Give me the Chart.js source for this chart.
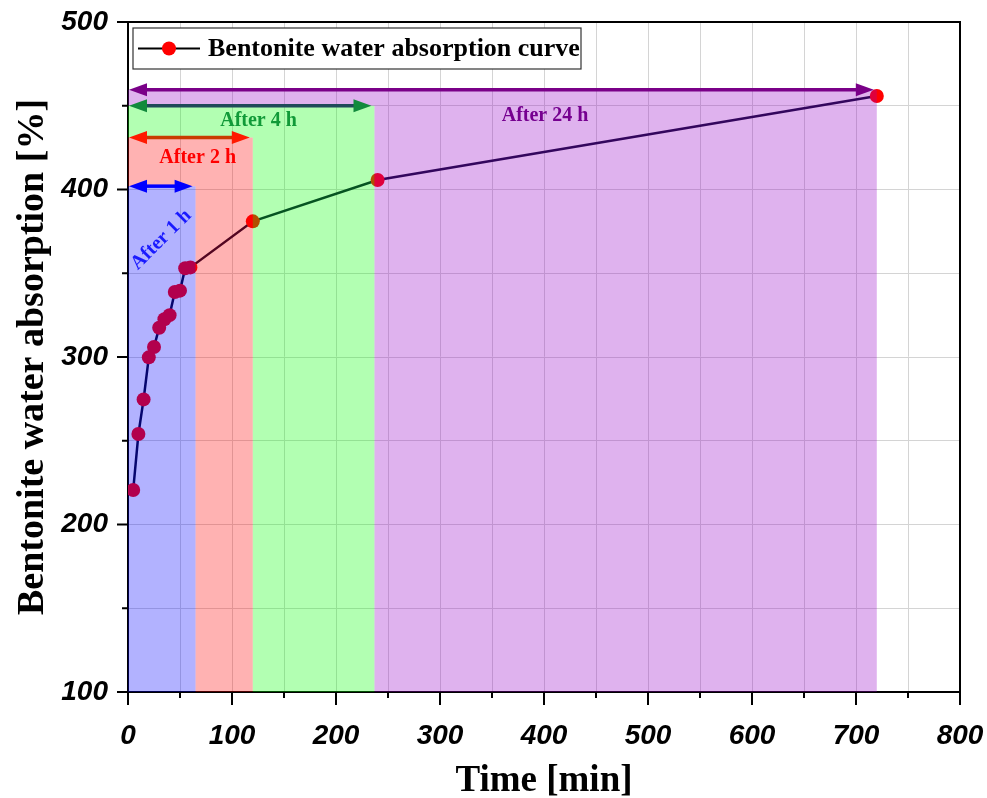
<!DOCTYPE html>
<html>
<head>
<meta charset="utf-8">
<script src="https://cdn.jsdelivr.net/npm/chart.js@4.4.1/dist/chart.umd.min.js"></script>
<style>
    html, body { margin: 0; padding: 0; background: #fff; }
    #wrap { width: 987px; height: 798px; }
</style>
</head>
<body>
<div id="wrap"><canvas id="chart" width="987" height="798"></canvas></div>
<script>
// --- Values ---
const timeMin = [5, 10, 15, 20, 25, 30, 35, 40, 45, 50, 55, 60, 120, 240, 720];
const absorption = [220.6, 254, 274.7, 299.8, 306, 317.5, 322.5, 325, 338.8, 339.6, 353, 353.5, 381, 405.7, 455.8];

// shaded stages: each runs from t = 0 up to stageEnd, and up to stageTop
const stageLabels = ['After 1 h', 'After 2 h', 'After 4 h', 'After 24 h'];
const stageEnd = [65, 120, 237, 720];
const stageTop = [402, 431, 450, 459.5];
const stageLabelX = [32, 67, 125.5, 401];
const stageLabelY = [370, 419, 441, 444];

const xTickLabels = [0, 100, 200, 300, 400, 500, 600, 700, 800];
const yTickLabels = [100, 200, 300, 400, 500];

// --- Styles ---
const stageFill = ['rgba(0,0,255,0.3)', 'rgba(255,0,0,0.3)', 'rgba(0,255,0,0.3)', 'rgba(150,0,200,0.3)'];
const stageShaft = ['#0000ff', '#c83c00', '#1f4a5a', '#7a0088'];
const stageHead = ['#0000ff', '#ff1a00', '#128a3c', '#7a0088'];
const stageText = ['#1a1aff', '#ff0000', '#119a38', '#760090'];

const tickFont = { family: "'Liberation Sans', Arial, sans-serif", size: 28, style: 'italic', weight: 'bold' };
const serifBold = "'Liberation Serif', 'Times New Roman', serif";

function drawArrow(ctx, xa, xb, yy, shaft, head) {
    const hl = 18, hw = 6.5;
    ctx.strokeStyle = shaft;
    ctx.lineWidth = 3.5;
    ctx.beginPath();
    ctx.moveTo(xa + hl - 2, yy);
    ctx.lineTo(xb - hl + 2, yy);
    ctx.stroke();
    ctx.fillStyle = head;
    ctx.beginPath();
    ctx.moveTo(xa, yy);
    ctx.lineTo(xa + hl, yy - hw);
    ctx.lineTo(xa + hl, yy + hw);
    ctx.closePath();
    ctx.fill();
    ctx.beginPath();
    ctx.moveTo(xb, yy);
    ctx.lineTo(xb - hl, yy - hw);
    ctx.lineTo(xb - hl, yy + hw);
    ctx.closePath();
    ctx.fill();
}

// translucent stage boxes go over the curve, like in the original
const stagePlugin = {
    id: 'stages',
    afterDatasetsDraw(chart) {
        const { ctx, scales: { x, y } } = chart;
        const x0 = x.getPixelForValue(0);
        const yb = y.getPixelForValue(100);
        ctx.save();
        stageEnd.forEach((end, i) => {
            const top = y.getPixelForValue(stageTop[i]);
            ctx.beginPath();
            ctx.rect(x0, top, x.getPixelForValue(end) - x0, yb - top);
            if (i > 0) {
                const pTop = y.getPixelForValue(stageTop[i - 1]);
                ctx.rect(x0, pTop, x.getPixelForValue(stageEnd[i - 1]) - x0, yb - pTop);
            }
            ctx.fillStyle = stageFill[i];
            ctx.fill('evenodd');
        });

        // arrows, widest first
        for (let i = stageEnd.length - 1; i >= 0; i--) {
            const yy = y.getPixelForValue(stageTop[i]);
            drawArrow(ctx, x0 + 1, x.getPixelForValue(stageEnd[i]) - 3, yy, stageShaft[i], stageHead[i]);
        }

        // labels
        ctx.font = `bold 20px ${serifBold}`;
        ctx.textAlign = 'center';
        ctx.textBaseline = 'middle';
        stageLabels.forEach((txt, i) => {
            const px = x.getPixelForValue(stageLabelX[i]);
            const py = y.getPixelForValue(stageLabelY[i]);
            ctx.fillStyle = stageText[i];
            ctx.save();
            ctx.translate(px, py);
            if (i === 0) ctx.rotate(-Math.PI / 4);
            ctx.fillText(txt, 0, 0);
            ctx.restore();
        });
        ctx.restore();
    }
};

// frame, outward ticks and the boxed legend
const framePlugin = {
    id: 'frame',
    afterDraw(chart) {
        const { ctx, chartArea: a, scales: { x, y } } = chart;
        ctx.save();
        ctx.strokeStyle = '#000';
        ctx.lineWidth = 2;
        ctx.beginPath();
        ctx.moveTo(a.left, a.top);
        ctx.lineTo(a.right, a.top);
        ctx.lineTo(a.right, a.bottom);
        ctx.stroke();

        ctx.beginPath();
        for (let v = 0; v <= 800; v += 50) {
            const px = x.getPixelForValue(v);
            ctx.moveTo(px, a.bottom);
            ctx.lineTo(px, a.bottom + (v % 100 === 0 ? 13 : 6));
        }
        for (let v = 100; v <= 500; v += 50) {
            const py = y.getPixelForValue(v);
            ctx.moveTo(a.left, py);
            ctx.lineTo(a.left - (v % 100 === 0 ? 11 : 6), py);
        }
        ctx.stroke();

        // legend
        const lx = a.left + 5, ly = a.top + 6, lw = 448, lh = 41;
        ctx.fillStyle = '#fff';
        ctx.fillRect(lx, ly, lw, lh);
        ctx.strokeStyle = '#333';
        ctx.lineWidth = 1.2;
        ctx.strokeRect(lx, ly, lw, lh);
        const my = ly + lh / 2;
        ctx.strokeStyle = '#000';
        ctx.lineWidth = 2;
        ctx.beginPath();
        ctx.moveTo(lx + 5, my);
        ctx.lineTo(lx + 67, my);
        ctx.stroke();
        ctx.fillStyle = '#ff0000';
        ctx.beginPath();
        ctx.arc(lx + 36, my, 7, 0, Math.PI * 2);
        ctx.fill();
        ctx.fillStyle = '#000';
        ctx.font = `bold 26px ${serifBold}`;
        ctx.textAlign = 'left';
        ctx.textBaseline = 'middle';
        ctx.fillText('Bentonite water absorption curve', lx + 75, my + 1);
        ctx.restore();
    }
};

const ctx = document.getElementById('chart').getContext('2d');
new Chart(ctx, {
    type: 'line',
    data: {
        datasets: [{
            label: 'Bentonite water absorption curve',
            data: timeMin.map((t, i) => ({ x: t, y: absorption[i] })),
            borderColor: '#0a0a30',
            borderWidth: 2.5,
            tension: 0,
            pointRadius: 7,
            pointBackgroundColor: '#ff0000',
            pointBorderWidth: 0
        }]
    },
    options: {
        responsive: false,
        animation: false,
        layout: { padding: { top: 22, right: 27, left: 0, bottom: 0 } },
        plugins: {
            legend: { display: false },
            tooltip: { enabled: false }
        },
        scales: {
            x: {
                type: 'linear',
                min: 0,
                max: 800,
                afterFit: (s) => {
                    s.height = 106;
                    s.paddingLeft = 0;
                    s.paddingRight = 0;
                },
                ticks: {
                    stepSize: 50,
                    autoSkip: false,
                    maxRotation: 0,
                    padding: 27,
                    color: '#000',
                    font: tickFont,
                    callback: (v) => xTickLabels.includes(v) ? v : ''
                },
                grid: { color: '#d4d4d4', lineWidth: 1, drawTicks: false },
                border: { color: '#000', width: 2 },
                title: {
                    display: true,
                    text: 'Time [min]',
                    color: '#000',
                    font: { family: serifBold, size: 37, weight: 'bold' },
                    padding: { top: 0, bottom: -6 }
                }
            },
            y: {
                min: 100,
                max: 500,
                afterFit: (s) => {
                    s.width = 128;
                    s.paddingTop = 0;
                    s.paddingBottom = 0;
                },
                ticks: {
                    stepSize: 50,
                    autoSkip: false,
                    padding: 20,
                    color: '#000',
                    font: tickFont,
                    callback: (v) => yTickLabels.includes(v) ? v : ''
                },
                grid: { color: '#d4d4d4', lineWidth: 1, drawTicks: false },
                border: { color: '#000', width: 2 },
                title: {
                    display: true,
                    text: 'Bentonite water absorption [%]',
                    color: '#000',
                    font: { family: serifBold, size: 38, weight: 'bold' },
                    padding: { top: 10, bottom: 0 }
                }
            }
        }
    },
    plugins: [stagePlugin, framePlugin]
});
</script>
</body>
</html>
